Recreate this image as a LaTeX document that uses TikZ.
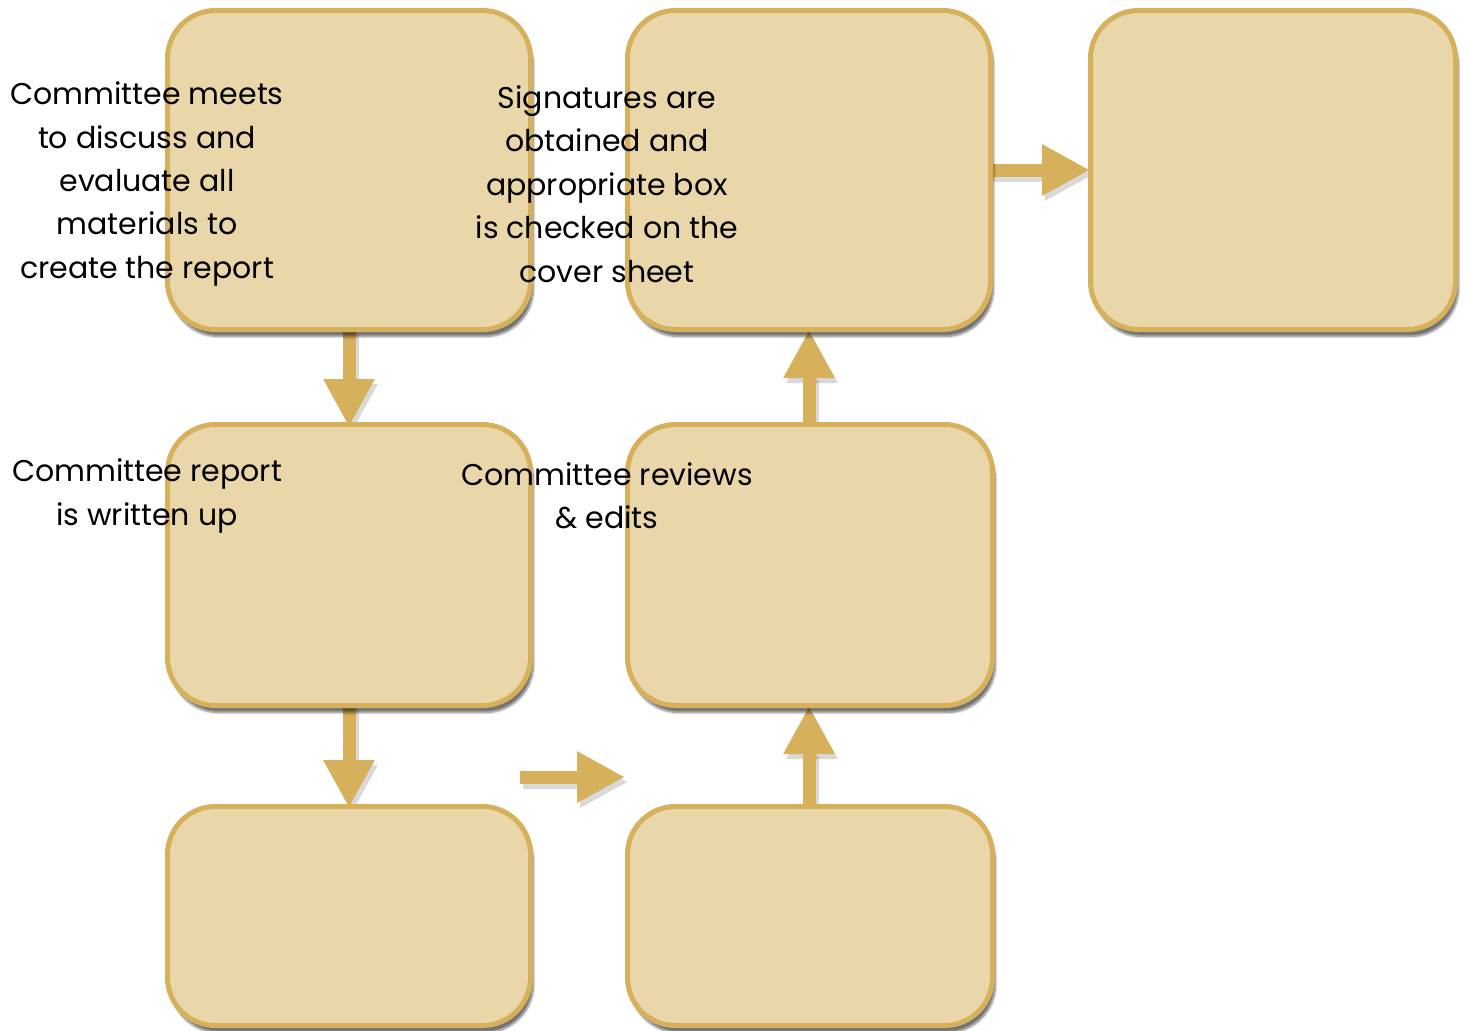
\documentclass[tikz,border=0pt]{standalone}
\usepackage{fontspec}
\setmainfont{Poppins}
\usetikzlibrary{arrows.meta,shadows.blur}
\definecolor{boxfill}{HTML}{E9D7AA}
\definecolor{boxline}{HTML}{D6B05A}
\tikzset{
  box/.style={draw=boxline, fill=boxfill, line width=5pt, rounded corners=48pt,
    blur shadow={shadow xshift=3pt, shadow yshift=-7pt, shadow blur steps=8, shadow opacity=55}},
  flow/.style={line width=13pt, draw=boxline, -{Triangle[width=48pt,length=48pt]}},
  flowshadow/.style={line width=13pt, draw=black, opacity=0.15, -{Triangle[width=48pt,length=48pt]},
    transform canvas={shift={(3pt,-5pt)}}},
  lbl/.style={align=center, font=\fontsize{30}{43.4}\selectfont, text=black}
}
\begin{document}
\begin{tikzpicture}[x=1pt,y=-1pt]
\useasboundingbox (0,0) rectangle (1465,1031);
\coordinate (b1c) at (349,170);
\coordinate (b2c) at (809,170);
\coordinate (b3c) at (1273,170);
\coordinate (b4c) at (349,565);
\coordinate (b5c) at (810,565);
\coordinate (b6c) at (349,916);
\coordinate (b7c) at (810,916);
% arrow end points (arrows drawn below boxes)
\coordinate (b1s) at (349,330);
\coordinate (b4n) at (349,427);
\coordinate (b4s) at (349,705);
\coordinate (b6n) at (349,808);
\coordinate (b2e) at (990,170);
\coordinate (b3w) at (1090,170);
\coordinate (b5n) at (809,425);
\coordinate (b2s) at (809,330);
\coordinate (b7n) at (809,806);
\coordinate (b5s) at (809,706);
\coordinate (ha) at (520,777);
\coordinate (hb) at (625,777);
\foreach \a/\b in {b1s/b4n, b4s/b6n, b2e/b3w, b5n/b2s, b7n/b5s, ha/hb}{
  \draw[flowshadow] (\a) -- (\b);
}
\foreach \a/\b in {b1s/b4n, b4s/b6n, b2e/b3w, b5n/b2s, b7n/b5s, ha/hb}{
  \draw[flow] (\a) -- (\b);
}
% boxes
\node[box, minimum width=363pt, minimum height=319pt] (b1) at (b1c) {};
\node[box, minimum width=363pt, minimum height=319pt] (b2) at (b2c) {};
\node[box, minimum width=365pt, minimum height=319pt] (b3) at (b3c) {};
\node[box, minimum width=363pt, minimum height=281pt] (b4) at (b4c) {};
\node[box, minimum width=365pt, minimum height=281pt] (b5) at (b5c) {};
\node[box, minimum width=363pt, minimum height=219pt] (b6) at (b6c) {};
\node[box, minimum width=365pt, minimum height=219pt] (b7) at (b7c) {};
% labels
\node[lbl] (t1) at (147,184) {Committee meets\\to discuss and\\evaluate all\\materials to\\create the report};
\node[lbl] (t2) at (607,184) {Signatures are\\obtained and\\appropriate box\\is checked on the\\cover sheet};
\node[lbl] (t4) at (147,496) {Committee report\\is written up};
\node[lbl] (t5) at (607,496) {Committee reviews\\\& edits};
\end{tikzpicture}
\end{document}
